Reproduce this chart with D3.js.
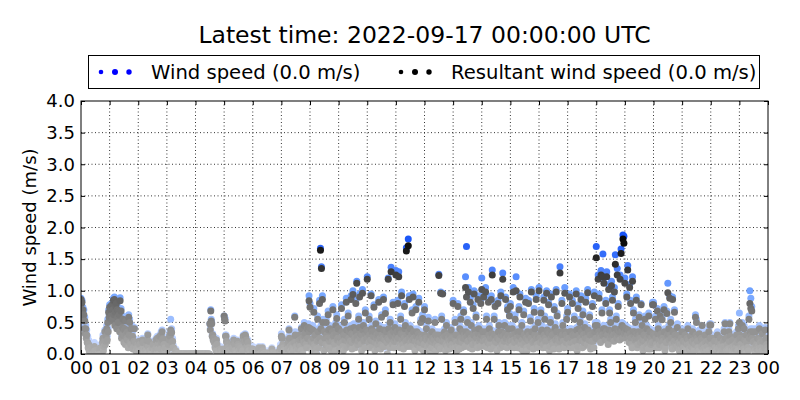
<!DOCTYPE html>
<html><head><meta charset="utf-8">
<script src="https://cdn.jsdelivr.net/npm/d3@7"></script>
<style>body{margin:0;background:#fff;}svg{display:block;font-family:"DejaVu Sans",sans-serif;}</style>
</head><body><svg id="c" width="800" height="400"></svg>
<script>
const titleText = "Latest time: 2022-09-17 00:00:00 UTC";
const legendLabels = ["Wind speed (0.0 m/s)", "Resultant wind speed (0.0 m/s)"];
const yLabel = "Wind speed (m/s)";
const xTickLabels = ["00","01","02","03","04","05","06","07","08","09","10","11","12","13","14","15","16","17","18","19","20","21","22","23","00"];
const yTicks = [0.0,0.5,1.0,1.5,2.0,2.5,3.0,3.5,4.0];
const sampleMinutes = 1;
// one value per minute, 60 per hour, 00:00 .. 24:00
const windSpeed = [
0.88,0.82,0.85,0.72,0.74,0.60,0.70,0.45,0.58,0.38,0.45,0.30,0.38,0.22,0.28,0.15,0.22,0.10,0.15,0.05,0.10,0.0,0.05,0.12,0.0,0.02,0.12,0.0,0.18,0.08,
0.05,0.0,0.0,0.10,0.08,0.0,0.0,0.05,0.12,0.0,0.02,0.15,0.0,0.0,0.15,0.22,0.30,0.10,0.18,0.25,0.38,0.20,0.25,0.32,0.45,0.28,0.55,0.40,0.70,0.62,
0.78,0.70,0.72,0.65,0.80,0.58,0.62,0.75,0.88,0.68,0.90,0.52,0.70,0.80,0.84,0.45,0.76,0.62,0.55,0.72,0.68,0.40,0.89,0.55,0.72,0.30,0.38,0.48,0.60,0.35,
0.25,0.42,0.48,0.20,0.58,0.38,0.32,0.28,0.40,0.15,0.62,0.35,0.55,0.22,0.20,0.45,0.45,0.30,0.35,0.12,0.15,0.25,0.42,0.18,0.22,0.08,0.10,0.15,0.05,0.20,
0.15,0.10,0.22,0.18,0.08,0.0,0.0,0.05,0.12,0.25,0.20,0.10,0.05,0.0,0.0,0.12,0.10,0.05,0.18,0.22,0.32,0.15,0.22,0.0,0.10,0.08,0.0,0.05,0.05,0.15,
0.12,0.20,0.0,0.0,0.08,0.12,0.20,0.25,0.15,0.05,0.28,0.20,0.10,0.0,0.25,0.30,0.18,0.12,0.35,0.22,0.38,0.25,0.28,0.15,0.20,0.10,0.12,0.05,0.05,0.0,
0.05,0.0,0.12,0.20,0.28,0.25,0.35,0.30,0.55,0.38,0.40,0.22,0.25,0.15,0.12,0.05,0.05,0.0,0.0,0.08,0.02,0,0,0,0,0,0,0,0,0,
0,0,0,0,0,0,0,0,0,0,0,0,0,0,0,0,0,0,0,0,0,0,0,0,0,0,0,0,0,0,
0,0,0,0,0,0,0,0,0,0,0,0,0,0,0,0,0,0,0,0,0,0,0,0,0,0,0,0,0,0,
0.48,0.40,0.70,0.55,0.50,0.30,0.32,0.25,0.28,0.20,0.22,0.12,0.15,0.10,0.25,0.18,0.10,0.05,0.05,0.0,0.0,0.0,0.12,0.08,0.05,0.0,0.0,0.0,0.08,0.10,
0.60,0.58,0.56,0.30,0.30,0.22,0.22,0.18,0.15,0.10,0.08,0.05,0.0,0.0,0.12,0.10,0.20,0.15,0.05,0.12,0.25,0.20,0.18,0.10,0.10,0.05,0.0,0.0,0.22,0.18,
0.15,0.10,0.08,0.05,0.12,0.15,0.0,0.0,0.05,0.10,0.30,0.28,0.25,0.20,0.32,0.30,0.20,0.25,0.15,0.12,0.22,0.15,0.10,0.08,0.05,0.0,0.0,0.05,0.12,0.10,
0.12,0.10,0.05,0.0,0.0,0.0,0.08,0.05,0.0,0.0,0.0,0.0,0.10,0.12,0.02,0.0,0.0,0.0,0.0,0.0,0.12,0.08,0.0,0.0,0.0,0,0,0,0,0,
0.05,0,0,0,0,0,0,0,0,0,0.10,0.05,0,0,0,0,0,0,0.05,0,0,0,0,0,0,0,0.08,0.05,0.15,0.12,
0.32,0.28,0.28,0.20,0.15,0.10,0.05,0.0,0.10,0.05,0.0,0.0,0.18,0.12,0.22,0.25,0.40,0.30,0.15,0.10,0.08,0.05,0.20,0.15,0.12,0.10,0.30,0.22,0.60,0.35,
0.22,0.18,0.15,0.08,0.05,0.12,0.25,0.20,0.35,0.28,0.18,0.10,0.42,0.30,0.10,0.05,0.28,0.22,0.50,0.32,0.38,0.25,0.20,0.15,0.45,0.30,0.30,0.48,0.92,0.40,
0.80,0.45,0.25,0.15,0.10,0.22,0.45,0.30,0.72,0.20,0.18,0.35,0.35,0.12,0.05,0.25,0.60,0.40,0.28,0.15,0.85,0.30,1.67,0.45,1.38,0.22,0.92,0.55,0.22,0.10,
0.40,0.30,0.12,0.20,0.55,0.35,0.30,0.18,0.68,0.42,0.15,0.25,0.45,0.30,0.08,0.15,0.25,0.40,0.75,0.32,0.35,0.22,0.20,0.10,0.50,0.38,0.62,0.28,0.30,0.45,
0.45,0.30,0.15,0.22,0.30,0.12,0.78,0.40,0.22,0.18,0.08,0.35,0.55,0.28,0.35,0.15,0.88,0.42,0.18,0.25,0.65,0.30,0.40,0.20,0.25,0.45,0.92,0.38,0.12,0.22,
1.00,0.35,0.48,0.28,0.30,0.15,0.85,0.40,1.15,0.32,0.20,0.25,0.60,0.48,0.95,0.30,0.38,0.20,0.10,0.35,1.02,0.42,0.50,0.25,0.28,0.15,0.70,0.38,0.42,0.30,
1.22,0.40,0.30,0.22,0.60,0.35,0.15,0.28,0.95,0.45,0.40,0.18,0.25,0.32,0.78,0.40,0.08,0.22,0.52,0.30,0.35,0.15,0.20,0.38,0.86,0.25,0.45,0.30,0.12,0.20,
0.62,0.35,0.30,0.18,0.90,0.42,0.18,0.28,0.70,0.35,0.40,0.22,0.05,0.30,1.20,0.45,0.28,0.15,0.55,0.38,1.37,0.32,0.35,0.20,0.82,0.40,0.15,0.25,0.48,0.30,
1.32,0.35,0.40,0.25,0.85,0.30,1.30,0.42,0.20,0.15,0.60,0.38,0.98,0.28,0.35,0.20,0.12,0.30,0.80,0.45,0.50,0.25,1.68,0.35,0.28,0.18,1.82,0.40,0.92,0.30,
0.45,0.22,0.18,0.35,0.70,0.28,0.95,0.40,0.30,0.15,0.08,0.25,0.75,0.32,0.40,0.20,0.25,0.38,0.88,0.30,0.15,0.22,0.55,0.35,0.30,0.12,0.62,0.28,0.10,0.20,
0.75,0.35,0.30,0.20,0.45,0.28,0.12,0.18,0.58,0.30,0.20,0.10,0.35,0.25,0.05,0.15,0.40,0.30,0.15,0.22,0.28,0.12,0.55,0.35,0.10,0.20,0.22,0.30,0.35,0.18,
1.26,0.28,0.18,0.12,0.98,0.35,0.60,0.25,0.96,0.30,0.25,0.15,0.40,0.32,0.08,0.20,0.50,0.35,0.18,0.12,0.30,0.25,0.12,0.20,0.35,0.28,0.42,0.30,0.20,0.15,
0.85,0.30,0.20,0.15,0.55,0.28,0.35,0.22,0.10,0.18,0.80,0.35,0.25,0.12,0.45,0.30,0.60,0.25,0.15,0.22,0.40,0.30,0.70,0.35,0.30,0.18,1.22,0.40,1.70,0.32,
0.55,0.25,1.05,0.38,0.25,0.15,0.88,0.30,0.50,0.28,0.12,0.20,0.78,0.35,1.00,0.42,0.35,0.22,0.62,0.30,0.20,0.15,0.92,0.38,0.45,0.25,0.30,0.18,0.85,0.35,
1.20,0.35,0.40,0.25,0.95,0.30,0.25,0.18,1.05,0.40,0.60,0.28,0.15,0.22,0.88,0.35,0.45,0.20,0.30,0.12,0.92,0.38,1.33,0.30,0.20,0.15,0.60,0.35,0.80,0.25,
0.35,0.22,0.10,0.30,0.85,0.40,0.50,0.28,0.28,0.15,0.98,0.35,0.40,0.20,1.28,0.32,0.18,0.25,0.50,0.38,0.90,0.30,0.30,0.15,0.75,0.35,0.45,0.22,0.65,0.28,
0.80,0.30,0.25,0.18,0.45,0.35,1.05,0.28,0.15,0.22,0.62,0.38,1.22,0.30,0.30,0.15,0.40,0.25,0.75,0.32,0.95,0.40,0.20,0.12,0.50,0.28,0.08,0.20,0.68,0.35,
0.35,0.22,0.88,0.30,0.15,0.10,0.40,0.28,0.85,0.35,0.25,0.18,0.58,0.30,1.02,0.40,0.30,0.22,0.12,0.25,0.72,0.35,0.45,0.28,0.92,0.30,0.20,0.15,0.55,0.32,
1.05,0.35,0.30,0.22,0.70,0.40,0.45,0.28,0.15,0.20,0.90,0.35,0.60,0.30,0.25,0.15,1.00,0.42,0.40,0.25,0.82,0.38,0.10,0.18,0.55,0.30,0.95,0.40,0.35,0.22,
0.20,0.12,0.75,0.35,0.48,0.28,1.02,0.40,0.65,0.30,0.28,0.20,0.12,0.25,1.38,0.38,0.40,0.30,0.85,0.35,0.50,0.25,0.18,0.15,1.05,0.40,0.35,0.22,0.60,0.30,
0.72,0.35,0.30,0.20,0.95,0.40,0.15,0.22,0.40,0.30,0.85,0.35,0.22,0.15,0.60,0.38,0.35,0.25,1.00,0.42,0.10,0.18,0.78,0.35,0.45,0.28,0.55,0.30,0.92,0.40,
0.25,0.15,0.68,0.35,0.18,0.22,0.48,0.30,0.88,0.38,0.30,0.20,1.02,0.42,0.40,0.28,0.62,0.35,0.12,0.18,0.35,0.25,0.80,0.38,0.25,0.15,0.98,0.40,0.50,0.30,
1.70,0.45,0.50,0.30,1.25,0.40,0.95,0.35,0.30,0.22,1.32,0.40,0.70,0.35,1.58,0.45,1.20,0.38,0.45,0.28,0.85,0.40,1.30,0.35,0.25,0.20,1.10,0.42,0.70,0.30,
0.55,0.35,1.15,0.40,0.90,0.30,0.35,0.25,1.05,0.45,1.57,0.38,0.60,0.30,1.35,0.42,0.80,0.35,0.40,0.28,1.25,0.45,1.66,0.40,0.50,0.30,1.88,0.48,1.86,0.38,
1.20,0.40,0.45,0.30,0.95,0.35,1.40,0.42,0.30,0.22,1.10,0.38,0.85,0.30,0.20,0.15,1.22,0.40,0.70,0.35,0.40,0.28,0.55,0.30,0.90,0.38,0.15,0.20,0.40,0.30,
0.62,0.35,0.30,0.22,0.80,0.40,0.50,0.28,0.10,0.15,0.35,0.25,0.60,0.32,0.25,0.18,0.45,0.30,0.20,0.12,0.65,0.35,0.40,0.25,0.12,0.20,0.30,0.22,0.82,0.38,
0.82,0.35,0.35,0.25,0.60,0.30,0.20,0.15,0.72,0.38,0.45,0.28,0.15,0.20,0.65,0.35,0.38,0.25,0.58,0.30,0.25,0.18,0.75,0.40,0.10,0.15,0.30,0.22,0.68,0.35,
1.12,0.38,0.45,0.28,0.92,0.35,0.55,0.30,0.20,0.12,0.90,0.40,0.40,0.25,0.70,0.35,0.15,0.20,0.25,0.18,0.48,0.30,0.35,0.22,0.10,0.15,0.20,0.12,0.30,0.20,
0.40,0.30,0.25,0.15,0.15,0.10,0.35,0.22,0.10,0.05,0.30,0.20,0.45,0.28,0.20,0.12,0.05,0.10,0.32,0.18,0.18,0.25,0.40,0.22,0.12,0.08,0.28,0.20,0.62,0.35,
0.55,0.30,0.25,0.15,0.15,0.08,0.38,0.25,0.10,0.05,0.30,0.18,0.45,0.28,0.20,0.12,0.08,0.15,0.35,0.22,0.15,0.10,0.25,0.18,0.05,0.10,0.40,0.25,0.48,0.30,
0.48,0.30,0.20,0.12,0.30,0.20,0.10,0.05,0.25,0.15,0.15,0.08,0.05,0.10,0.35,0.22,0.22,0.15,0.12,0.05,0.30,0.20,0.18,0.10,0.08,0.12,0.25,0.18,0.40,0.28,
0.50,0.30,0.18,0.10,0.30,0.20,0.12,0.08,0.40,0.25,0.50,0.32,0.25,0.15,0.10,0.05,0.28,0.18,0.15,0.10,0.05,0.12,0.20,0.15,0.35,0.22,0.12,0.08,0.45,0.28,
0.65,0.35,0.30,0.20,0.15,0.10,0.50,0.30,0.20,0.12,0.45,0.28,0.10,0.05,0.35,0.22,0.25,0.15,0.15,0.08,0.60,0.30,1.00,0.40,0.88,0.35,0.75,0.30,0.40,0.22,
0.25,0.15,0.10,0.05,0.40,0.25,0.20,0.12,0.30,0.18,0.12,0.08,0.45,0.28,0.22,0.15,0.15,0.10,0.38,0.25,0.05,0.10,0.25,0.15,0.42,0.28,0.30,0.20,0.15,0.10,
0.0];
const resultantSpeed = [
0.86,0.80,0.82,0.68,0.70,0.55,0.62,0.40,0.52,0.32,0.40,0.25,0.30,0.18,0.18,0.10,0.15,0.05,0.10,0.0,0.05,0.0,0.0,0.08,0.0,0.0,0.08,0.0,0.12,0.05,
0.0,0.0,0.0,0.05,0.05,0.0,0.0,0.0,0.08,0.0,0.0,0.10,0.0,0.0,0.10,0.18,0.25,0.05,0.12,0.20,0.35,0.15,0.20,0.28,0.40,0.22,0.50,0.35,0.66,0.58,
0.74,0.65,0.70,0.60,0.77,0.52,0.55,0.70,0.85,0.62,0.86,0.45,0.66,0.76,0.80,0.40,0.70,0.58,0.50,0.68,0.62,0.35,0.84,0.50,0.68,0.25,0.30,0.42,0.55,0.30,
0.18,0.38,0.40,0.15,0.52,0.32,0.25,0.22,0.35,0.10,0.58,0.30,0.50,0.18,0.15,0.40,0.40,0.25,0.28,0.08,0.10,0.20,0.40,0.12,0.18,0.05,0.05,0.10,0.0,0.15,
0.10,0.05,0.20,0.15,0.05,0.0,0.0,0.0,0.08,0.22,0.18,0.05,0.0,0.0,0.0,0.08,0.05,0.0,0.15,0.20,0.30,0.12,0.20,0.0,0.05,0.05,0.0,0.0,0.0,0.10,
0.10,0.15,0.0,0.0,0.05,0.08,0.15,0.22,0.10,0.0,0.25,0.15,0.08,0.0,0.22,0.28,0.15,0.08,0.30,0.18,0.35,0.22,0.24,0.10,0.15,0.05,0.10,0.0,0.0,0.0,
0.02,0.0,0.08,0.15,0.25,0.22,0.30,0.28,0.38,0.34,0.34,0.18,0.20,0.10,0.10,0.0,0.0,0.0,0.0,0.05,0,0,0,0,0,0,0,0,0,0,
0,0,0,0,0,0,0,0,0,0,0,0,0,0,0,0,0,0,0,0,0,0,0,0,0,0,0,0,0,0,
0,0,0,0,0,0,0,0,0,0,0,0,0,0,0,0,0,0,0,0,0,0,0,0,0,0,0,0,0,0,
0.48,0.38,0.68,0.52,0.48,0.28,0.30,0.22,0.25,0.18,0.20,0.10,0.12,0.05,0.22,0.15,0.05,0.0,0.0,0.0,0.0,0.0,0.08,0.05,0.0,0.0,0.0,0.0,0.05,0.08,
0.60,0.55,0.52,0.28,0.28,0.20,0.18,0.15,0.10,0.05,0.05,0.0,0.0,0.0,0.08,0.05,0.15,0.10,0.0,0.08,0.22,0.18,0.15,0.05,0.05,0.0,0.0,0.0,0.20,0.15,
0.12,0.05,0.05,0.0,0.08,0.10,0.0,0.0,0.0,0.05,0.28,0.25,0.20,0.18,0.30,0.28,0.18,0.22,0.12,0.08,0.18,0.10,0.05,0.05,0.0,0.0,0.0,0.0,0.08,0.05,
0.08,0.05,0.02,0,0,0,0.05,0.02,0,0,0,0,0.08,0.10,0,0,0,0,0,0,0.10,0.05,0,0,0,0,0,0,0,0,
0.02,0,0,0,0,0,0,0,0,0,0.08,0.02,0,0,0,0,0,0,0.02,0,0,0,0,0,0,0,0.05,0.02,0.10,0.08,
0.28,0.25,0.25,0.15,0.10,0.05,0.0,0.0,0.05,0.0,0.0,0.0,0.15,0.08,0.18,0.20,0.38,0.25,0.12,0.05,0.05,0.0,0.15,0.10,0.08,0.05,0.25,0.18,0.58,0.30,
0.18,0.12,0.10,0.05,0.0,0.08,0.20,0.15,0.30,0.22,0.12,0.05,0.40,0.25,0.05,0.0,0.22,0.18,0.45,0.28,0.33,0.20,0.15,0.10,0.40,0.25,0.25,0.42,0.84,0.35,
0.74,0.40,0.20,0.10,0.05,0.18,0.38,0.25,0.66,0.15,0.12,0.30,0.30,0.08,0.0,0.20,0.55,0.35,0.22,0.10,0.80,0.25,1.64,0.40,1.35,0.18,0.86,0.50,0.18,0.05,
0.35,0.25,0.08,0.15,0.50,0.30,0.25,0.12,0.62,0.38,0.10,0.20,0.40,0.25,0.05,0.10,0.20,0.35,0.70,0.28,0.30,0.18,0.15,0.05,0.45,0.32,0.56,0.22,0.25,0.40,
0.40,0.25,0.10,0.18,0.25,0.08,0.72,0.35,0.18,0.12,0.05,0.30,0.50,0.22,0.30,0.10,0.82,0.38,0.12,0.20,0.60,0.25,0.35,0.15,0.20,0.40,0.86,0.32,0.08,0.18,
0.94,0.30,0.42,0.22,0.25,0.10,0.80,0.35,1.12,0.28,0.15,0.20,0.55,0.42,0.90,0.25,0.32,0.15,0.05,0.30,0.96,0.38,0.45,0.20,0.22,0.10,0.65,0.32,0.38,0.25,
1.18,0.35,0.25,0.18,0.55,0.30,0.10,0.22,0.92,0.40,0.35,0.12,0.20,0.28,0.74,0.35,0.05,0.18,0.48,0.25,0.30,0.10,0.15,0.32,0.82,0.20,0.40,0.25,0.08,0.15,
0.58,0.30,0.25,0.12,0.86,0.38,0.12,0.22,0.64,0.30,0.35,0.18,0.0,0.25,1.18,0.40,0.22,0.10,0.50,0.32,1.30,0.28,0.30,0.15,0.78,0.35,0.10,0.20,0.42,0.25,
1.25,0.30,0.35,0.20,0.80,0.25,1.22,0.38,0.15,0.10,0.55,0.32,0.92,0.22,0.30,0.15,0.08,0.25,0.75,0.40,0.45,0.20,1.63,0.30,0.22,0.12,1.71,0.35,0.86,0.25,
0.40,0.18,0.12,0.30,0.65,0.22,0.90,0.35,0.25,0.10,0.05,0.20,0.70,0.28,0.35,0.15,0.20,0.32,0.82,0.25,0.10,0.18,0.50,0.30,0.25,0.08,0.56,0.22,0.05,0.15,
0.70,0.30,0.25,0.15,0.40,0.22,0.08,0.12,0.52,0.25,0.15,0.05,0.30,0.20,0.0,0.10,0.35,0.25,0.10,0.18,0.22,0.08,0.50,0.30,0.05,0.15,0.18,0.25,0.30,0.12,
1.24,0.22,0.12,0.08,0.96,0.30,0.55,0.20,0.95,0.25,0.20,0.10,0.35,0.28,0.05,0.15,0.45,0.30,0.12,0.08,0.25,0.20,0.08,0.15,0.30,0.22,0.38,0.25,0.15,0.10,
0.80,0.25,0.15,0.10,0.50,0.22,0.30,0.18,0.05,0.12,0.75,0.30,0.20,0.08,0.40,0.25,0.55,0.20,0.10,0.18,0.35,0.25,0.66,0.30,0.25,0.12,1.05,0.35,0.90,0.28,
0.50,0.20,0.98,0.32,0.20,0.10,0.82,0.25,0.45,0.22,0.08,0.15,0.72,0.30,0.95,0.38,0.30,0.18,0.58,0.25,0.15,0.10,0.86,0.32,0.40,0.20,0.25,0.12,0.80,0.30,
1.02,0.30,0.35,0.20,0.90,0.25,0.20,0.12,0.98,0.35,0.55,0.22,0.10,0.18,0.82,0.30,0.40,0.15,0.25,0.08,0.86,0.32,1.25,0.25,0.15,0.10,0.55,0.30,0.75,0.20,
0.30,0.18,0.05,0.25,0.80,0.35,0.45,0.22,0.22,0.10,0.92,0.30,0.35,0.15,1.18,0.28,0.12,0.20,0.45,0.32,0.86,0.25,0.25,0.10,0.70,0.30,0.40,0.18,0.60,0.22,
0.75,0.25,0.20,0.12,0.40,0.30,0.98,0.22,0.10,0.18,0.55,0.32,1.00,0.25,0.25,0.10,0.35,0.20,0.70,0.28,0.90,0.35,0.15,0.08,0.45,0.22,0.05,0.15,0.62,0.30,
0.30,0.18,0.82,0.25,0.10,0.05,0.35,0.22,0.80,0.30,0.20,0.12,0.52,0.25,0.98,0.35,0.25,0.18,0.08,0.20,0.66,0.30,0.40,0.22,0.86,0.25,0.15,0.10,0.50,0.28,
1.00,0.30,0.25,0.18,0.65,0.35,0.38,0.22,0.10,0.15,0.85,0.30,0.55,0.25,0.20,0.10,0.96,0.38,0.35,0.20,0.78,0.32,0.05,0.12,0.50,0.25,0.90,0.35,0.30,0.18,
0.15,0.08,0.70,0.30,0.42,0.22,0.98,0.35,0.60,0.25,0.22,0.15,0.08,0.20,1.28,0.32,0.35,0.25,0.80,0.30,0.45,0.20,0.12,0.10,0.96,0.35,0.30,0.18,0.55,0.25,
0.66,0.30,0.25,0.15,0.90,0.35,0.10,0.18,0.35,0.25,0.80,0.30,0.18,0.10,0.55,0.32,0.30,0.20,0.95,0.38,0.05,0.12,0.72,0.30,0.40,0.22,0.50,0.25,0.86,0.35,
0.20,0.10,0.62,0.30,0.12,0.18,0.42,0.25,0.82,0.32,0.25,0.15,0.97,0.38,0.35,0.22,0.58,0.30,0.08,0.12,0.30,0.20,0.75,0.32,0.20,0.10,0.92,0.35,0.45,0.25,
1.52,0.40,0.45,0.25,1.18,0.35,0.88,0.30,0.25,0.18,1.25,0.35,0.65,0.30,1.22,0.40,1.12,0.32,0.40,0.22,0.80,0.35,1.22,0.30,0.20,0.15,1.02,0.38,0.65,0.25,
0.50,0.30,1.08,0.35,0.85,0.25,0.30,0.20,0.98,0.40,1.42,0.32,0.55,0.25,1.25,0.38,0.75,0.30,0.35,0.22,1.18,0.40,1.59,0.35,0.45,0.25,1.82,0.42,1.75,0.32,
1.12,0.35,0.40,0.25,0.90,0.30,1.33,0.38,0.25,0.18,1.05,0.32,0.80,0.25,0.15,0.10,1.15,0.35,0.65,0.30,0.35,0.22,0.50,0.25,0.85,0.32,0.10,0.15,0.35,0.25,
0.58,0.30,0.25,0.18,0.78,0.35,0.45,0.22,0.05,0.10,0.30,0.20,0.55,0.28,0.20,0.12,0.40,0.25,0.15,0.08,0.60,0.30,0.35,0.20,0.08,0.15,0.25,0.18,0.78,0.32,
0.78,0.30,0.30,0.20,0.55,0.25,0.15,0.10,0.68,0.32,0.40,0.22,0.10,0.15,0.60,0.30,0.32,0.20,0.54,0.25,0.20,0.12,0.70,0.35,0.05,0.10,0.25,0.18,0.64,0.30,
0.97,0.32,0.40,0.22,0.88,0.30,0.50,0.25,0.15,0.08,0.86,0.35,0.35,0.20,0.66,0.30,0.10,0.15,0.20,0.12,0.42,0.25,0.30,0.18,0.05,0.10,0.15,0.08,0.25,0.15,
0.35,0.25,0.20,0.10,0.10,0.05,0.30,0.18,0.05,0.0,0.25,0.15,0.40,0.22,0.15,0.08,0.0,0.05,0.28,0.12,0.12,0.20,0.35,0.18,0.08,0.05,0.22,0.15,0.58,0.30,
0.50,0.25,0.20,0.10,0.10,0.05,0.32,0.20,0.05,0.0,0.25,0.12,0.45,0.22,0.15,0.08,0.05,0.10,0.30,0.18,0.10,0.05,0.20,0.12,0.0,0.05,0.35,0.20,0.46,0.25,
0.46,0.25,0.15,0.08,0.25,0.15,0.05,0.0,0.20,0.10,0.10,0.05,0.0,0.05,0.30,0.18,0.18,0.10,0.08,0.0,0.25,0.15,0.12,0.05,0.05,0.08,0.20,0.12,0.35,0.22,
0.48,0.25,0.12,0.05,0.25,0.15,0.08,0.05,0.35,0.20,0.48,0.28,0.20,0.10,0.05,0.0,0.22,0.12,0.10,0.05,0.0,0.08,0.15,0.10,0.30,0.18,0.08,0.05,0.40,0.22,
0.50,0.30,0.25,0.15,0.10,0.05,0.45,0.25,0.15,0.08,0.40,0.22,0.05,0.0,0.30,0.18,0.20,0.10,0.10,0.05,0.55,0.25,0.80,0.35,0.72,0.30,0.68,0.25,0.35,0.18,
0.20,0.10,0.05,0.0,0.35,0.20,0.15,0.08,0.25,0.12,0.08,0.05,0.40,0.22,0.18,0.10,0.10,0.05,0.32,0.20,0.0,0.05,0.20,0.10,0.38,0.22,0.25,0.15,0.10,0.05,
0.0];

const svg = d3.select("#c");
const m = {l:81, r:768, t:101, b:354};
const x = d3.scaleLinear().domain([0,24]).range([m.l, m.r]);
const y = d3.scaleLinear().domain([0,4]).range([m.b, m.t]);
const windColor = d3.scaleLinear().domain([0,1,2]).range(["#d4e0ff","#6fa2ff","#0a46f5"]).clamp(true);
const resColor = d3.scaleLinear().domain([0,1.9]).range(["#b4b4b4","#000000"]).clamp(true);

svg.append("defs").append("clipPath").attr("id","clip").append("rect")
  .attr("x",m.l).attr("y",m.t).attr("width",m.r-m.l).attr("height",m.b-m.t);

const g = svg.append("g");
g.selectAll("line.gx").data(d3.range(1,24)).enter().append("line")
  .attr("x1",d=>x(d)).attr("x2",d=>x(d)).attr("y1",m.t).attr("y2",m.b)
  .attr("stroke","#000").attr("stroke-width",0.8).attr("stroke-dasharray","1,2.5");
g.selectAll("line.gy").data(yTicks.slice(1,-1)).enter().append("line")
  .attr("y1",d=>y(d)).attr("y2",d=>y(d)).attr("x1",m.l).attr("x2",m.r)
  .attr("stroke","#000").attr("stroke-width",0.8).attr("stroke-dasharray","1,2.5");

const pts = svg.append("g").attr("clip-path","url(#clip)");
const t = i => i*sampleMinutes/60;
pts.selectAll("circle.w").data(windSpeed).enter().append("circle")
  .attr("cx",(d,i)=>x(t(i))).attr("cy",d=>y(d)).attr("r",3.5).attr("fill",d=>windColor(d));
pts.selectAll("circle.r").data(resultantSpeed).enter().append("circle")
  .attr("cx",(d,i)=>x(t(i))).attr("cy",d=>y(d)).attr("r",3.5).attr("fill",d=>resColor(d));

const xa = svg.append("g").attr("transform",`translate(0,${m.b})`)
  .call(d3.axisBottom(x).tickValues(d3.range(0,25)).tickFormat((d,i)=>xTickLabels[i]).tickSize(-4).tickPadding(7));
const xt = svg.append("g").attr("transform",`translate(0,${m.t})`)
  .call(d3.axisTop(x).tickValues(d3.range(0,25)).tickFormat("").tickSize(-4));
const ya = svg.append("g").attr("transform",`translate(${m.l},0)`)
  .call(d3.axisLeft(y).tickValues(yTicks).tickFormat(d3.format(".1f")).tickSize(-4).tickPadding(6));
const yr = svg.append("g").attr("transform",`translate(${m.r},0)`)
  .call(d3.axisRight(y).tickValues(yTicks).tickFormat("").tickSize(-4));
[xa,xt,ya,yr].forEach(a=>{a.select(".domain").remove();a.selectAll("line").attr("stroke","#000");
  a.selectAll("text").attr("fill","#000").style("font-size","18px").style("font-family","DejaVu Sans");});
svg.append("rect").attr("x",m.l).attr("y",m.t).attr("width",m.r-m.l).attr("height",m.b-m.t)
  .attr("fill","none").attr("stroke","#000").attr("stroke-width",1);

svg.append("text").attr("x",(m.l+m.r)/2).attr("y",43).attr("text-anchor","middle")
  .style("font-size","23.5px").text(titleText);
svg.append("text").attr("transform",`translate(36,${(m.t+m.b)/2}) rotate(-90)`).attr("text-anchor","middle")
  .style("font-size","18px").text(yLabel);

svg.append("rect").attr("x",88.5).attr("y",55.5).attr("width",671).attr("height",33)
  .attr("fill","#fff").attr("stroke","#000").attr("stroke-width",1);
const legendColors = ["#0000ff","#000000"];
const legendX = [101, 401];
const dotOffsets = [0,14,28];
const dotR = [2.3,3.0,2.7];
legendLabels.forEach((lab,k)=>{
  dotOffsets.forEach((o,j)=>svg.append("circle").attr("cx",legendX[k]+o).attr("cy",72).attr("r",dotR[j]).attr("fill",legendColors[k]));
  svg.append("text").attr("x",legendX[k]+50).attr("y",79).style("font-size","19.6px").text(lab);
});
</script></body></html>
